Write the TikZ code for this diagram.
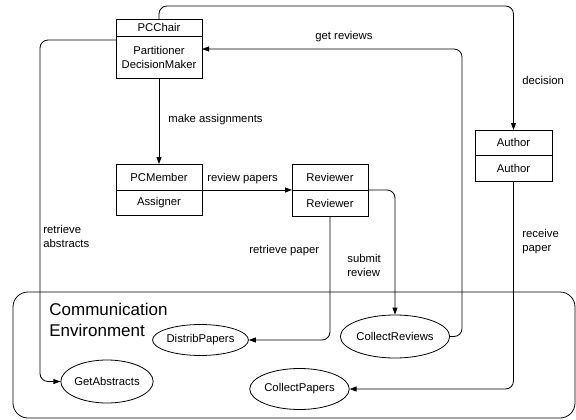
\documentclass[tikz,border=0pt]{standalone}
\usepackage{fontspec}
\setmainfont{Liberation Sans}
\usepackage{tikz}
\usetikzlibrary{positioning, arrows.meta, shapes.geometric}

\tikzset{
  box/.style={draw, rectangle, inner sep=0pt, outer sep=0pt, align=center},
  proc/.style={draw, ellipse, inner sep=0pt},
  flow/.style={line width=0.8pt, rounded corners=8pt, -{Triangle[length=7pt,width=5pt]}},
  lbl/.style={anchor=west, inner sep=0pt, align=left}
}

\begin{document}
\begin{tikzpicture}[x=1pt, y=-1pt, line width=0.8pt, font=\fontsize{11.3}{14}\selectfont]

\useasboundingbox (0,0) rectangle (576,420);

% Ambiente de comunicação
\draw[rounded corners=15pt] (13,292) rectangle (575,418);
\node[lbl, font=\fontsize{17}{21}\selectfont] (envlabel) at (49,319.5) {Communication\\Environment};

% Papéis (caixas)
\node[box, minimum width=86pt, minimum height=17pt] (chair) at (159,27.5) {PCChair};
\node[box, minimum width=86pt, minimum height=42pt, below=0pt of chair] (chairroles) {Partitioner\\DecisionMaker};

\node[box, minimum width=86pt, minimum height=26pt] (member) at (159,177) {PCMember};
\node[box, minimum width=86pt, minimum height=25pt, below=0pt of member] (assigner) {Assigner};

\node[box, minimum width=76pt, minimum height=26pt] (reviewer) at (330,177) {Reviewer};
\node[box, minimum width=76pt, minimum height=26pt, below=0pt of reviewer] (reviewerrole) {Reviewer};

\node[box, minimum width=77pt, minimum height=25.5pt] (author) at (513.5,142.75) {Author};
\node[box, minimum width=77pt, minimum height=25.5pt, below=0pt of author] (authorrole) {Author};

% Processos (elipses)
\node[proc, minimum width=89pt, minimum height=31pt] (distrib) at (200.5,340) {DistribPapers};
\node[proc, minimum width=90pt, minimum height=43pt] (abstracts) at (107,381.5) {GetAbstracts};
\node[proc, minimum width=102pt, minimum height=43pt] (reviews) at (395,336.5) {CollectReviews};
\node[proc, minimum width=99pt, minimum height=41pt] (papers) at (299.5,389) {CollectPapers};

% Conexões
\draw[flow] (chair.north) -- ++(0,-13) -| (author.north);
\draw[flow] (reviews.east) -- ++(12,0) |- ([yshift=8pt]chairroles.east);
\draw[flow] (chairroles.south) -- (member.north);
\draw[flow] (member.south east) -- (reviewer.south west);
\draw[flow] (reviewer.south east) -| (reviews.north);
\draw[flow] (reviewerrole.south) |- (distrib.east);
\draw[flow] ([yshift=-4pt]chairroles.north west) -- ++(-76,0) |- (abstracts.west);
\draw[flow] (authorrole.south) |- (papers.east);

% Rótulos
\node[lbl] (lbldecision) at (522,80) {decision};
\node[lbl] (lblgetrev) at (315,37) {get reviews};
\node[lbl] (lblassign) at (168,120) {make assignments};
\node[lbl] (lblrevpap) at (207,179) {review papers};
\node[lbl] (lblretpap) at (249,251) {retrieve paper};
\node[lbl] (lblsubmit) at (347,265) {submit\\review};
\node[lbl] (lblretabs) at (43,236.5) {retrieve\\abstracts};
\node[lbl] (lblreceive) at (522,241.5) {receive\\paper};

\end{tikzpicture}
\end{document}
